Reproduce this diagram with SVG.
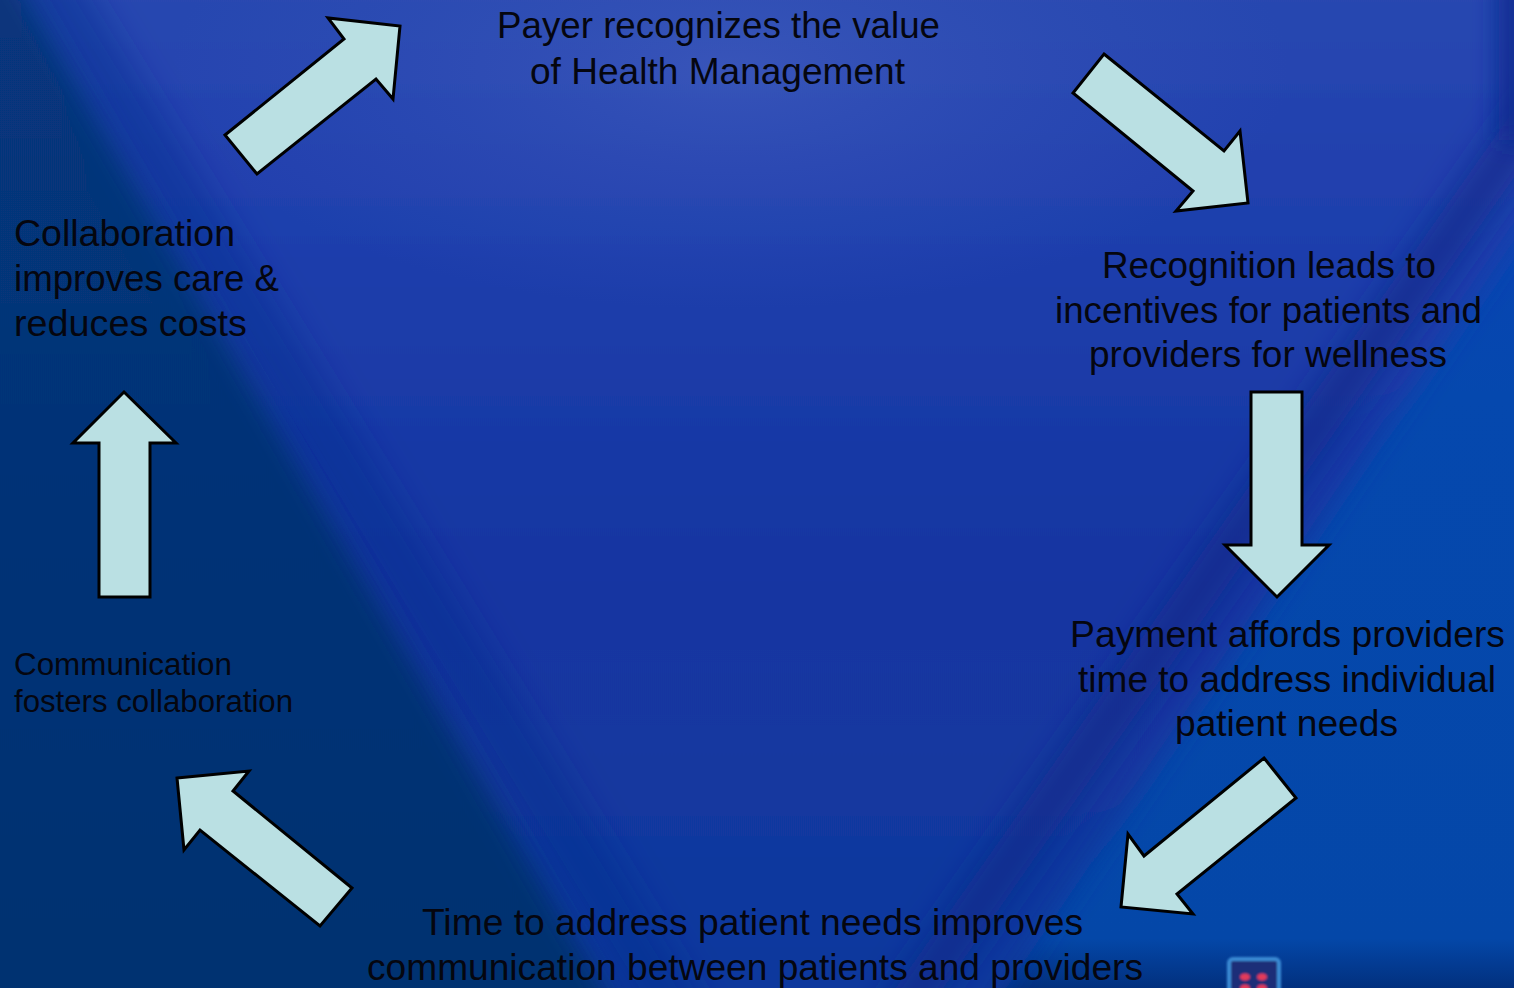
<svg xmlns="http://www.w3.org/2000/svg" width="1514" height="988" viewBox="0 0 1514 988">
  <defs>
    <style>
      .label { font-family: "Liberation Sans", Arial, sans-serif; fill: #05060f; }
      .big { font-size: 37px; }
      .small { font-size: 31px; }
      .arrow { fill: #bae0e3; stroke: #000000; stroke-width: 3; stroke-linejoin: miter; }
    </style>
    <linearGradient id="coneFill" x1="0" y1="0" x2="0" y2="1">
      <stop offset="0" stop-color="#2e4cb2"/>
      <stop offset="0.25" stop-color="#2040ae"/>
      <stop offset="0.55" stop-color="#1536a2"/>
      <stop offset="1" stop-color="#0e389c"/>
    </linearGradient>
    <linearGradient id="sideRight" x1="0" y1="0" x2="0" y2="1">
      <stop offset="0" stop-color="#0c3eb8"/>
      <stop offset="0.4" stop-color="#0548ae"/>
      <stop offset="0.95" stop-color="#0447a8"/>
      <stop offset="1" stop-color="#02307e"/>
    </linearGradient>
    <linearGradient id="sideLeft" x1="0" y1="0" x2="0" y2="1">
      <stop offset="0" stop-color="#07367e"/>
      <stop offset="1" stop-color="#05306f"/>
    </linearGradient>
    <radialGradient id="glow" cx="0" cy="0" r="1" gradientUnits="userSpaceOnUse" gradientTransform="translate(730,70) scale(560,240)">
      <stop offset="0" stop-color="#4761c0" stop-opacity="0.55"/>
      <stop offset="0.6" stop-color="#3c58bb" stop-opacity="0.25"/>
      <stop offset="1" stop-color="#3c58bb" stop-opacity="0"/>
    </radialGradient>
    <filter id="soft" filterUnits="userSpaceOnUse" x="-300" y="-300" width="2114" height="1588">
      <feGaussianBlur stdDeviation="12"/>
    </filter>
    <filter id="softer" filterUnits="userSpaceOnUse" x="-300" y="-300" width="2114" height="1588">
      <feGaussianBlur stdDeviation="16"/>
    </filter>
    <filter id="haze" x="-20%" y="-20%" width="140%" height="140%">
      <feGaussianBlur stdDeviation="1.2"/>
    </filter>
  </defs>

  <!-- backdrop: light cone between two darker side wedges -->
  <g id="backdrop">
    <rect x="0" y="0" width="1514" height="988" fill="url(#sideRight)"/>
    <polygon points="-120,-120 1650,-120 1650,40 930,1100 640,1100 -120,-120" fill="url(#coneFill)" filter="url(#soft)"/>
    <!-- darker rim just inside the left edge of the cone -->
    <line x1="20" y1="-60" x2="690" y2="1040" stroke="#0e2f8e" stroke-width="60" stroke-opacity="0.45" filter="url(#softer)"/>
    <polygon points="-150,-150 -20,-150 6,-40 645,1060 660,1120 -150,1120" fill="url(#sideLeft)" filter="url(#soft)"/>
    <rect x="0" y="0" width="1514" height="988" fill="url(#glow)"/>
    <!-- darker band running along the right edge of the cone -->
    <line x1="1580" y1="50" x2="890" y2="1030" stroke="#0a2888" stroke-width="40" stroke-opacity="0.7" filter="url(#softer)"/>
    <line x1="1514" y1="-40" x2="1514" y2="140" stroke="#0a2c90" stroke-width="30" filter="url(#soft)"/>
    <!-- small emblem at the lower edge -->
    <g id="emblem" filter="url(#haze)">
      <rect x="1229" y="959" width="50" height="40" rx="4" fill="#1d2f78" stroke="#3a8ad4" stroke-width="4"/>
      <ellipse cx="1245" cy="977" rx="5" ry="3.5" fill="#e23a5a"/>
      <ellipse cx="1262" cy="977" rx="5" ry="3.5" fill="#e23a5a"/>
      <ellipse cx="1245" cy="988" rx="5" ry="3.5" fill="#e23a5a"/>
      <ellipse cx="1262" cy="988" rx="5" ry="3.5" fill="#e23a5a"/>
    </g>
  </g>

  <!-- block arrows linking the cycle steps -->
  <g id="connectors">
    <polygon id="arrow-payer" class="arrow" points="225,135 344,39 328,18 400,26 393,99 376,79 257,174"/>
    <polygon id="arrow-recognition" class="arrow" points="1104,54 1224,151 1240,131 1248,203 1176,211 1193,191 1073,93"/>
    <polygon id="arrow-payment" class="arrow" points="1251,392 1302,392 1302,545 1329,545 1277,597 1225,545 1251,545"/>
    <polygon id="arrow-time" class="arrow" points="1264,758 1296,798 1177,894 1193,914 1121,907 1128,834 1144,856"/>
    <polygon id="arrow-communication" class="arrow" points="177,778 249,771 233,791 352,888 320,926 200,830 184,850"/>
    <polygon id="arrow-collaboration" class="arrow" points="124,392 176,443 150,443 150,597 99,597 99,443 73,443"/>
  </g>

  <g id="node-payer">
    <text class="label big" x="718.5" y="38" text-anchor="middle" textLength="443" lengthAdjust="spacingAndGlyphs">Payer recognizes the value</text>
    <text class="label big" x="717.5" y="84" text-anchor="middle" textLength="375" lengthAdjust="spacingAndGlyphs">of Health Management</text>
  </g>

  <g id="node-recognition">
    <text class="label big" x="1269" y="278" text-anchor="middle" textLength="334" lengthAdjust="spacingAndGlyphs">Recognition leads to</text>
    <text class="label big" x="1268.5" y="323" text-anchor="middle" textLength="427" lengthAdjust="spacingAndGlyphs">incentives for patients and</text>
    <text class="label big" x="1268" y="367" text-anchor="middle" textLength="358" lengthAdjust="spacingAndGlyphs">providers for wellness</text>
  </g>

  <g id="node-payment">
    <text class="label big" x="1287.5" y="647" text-anchor="middle" textLength="435" lengthAdjust="spacingAndGlyphs">Payment affords providers</text>
    <text class="label big" x="1287" y="692" text-anchor="middle" textLength="418" lengthAdjust="spacingAndGlyphs">time to address individual</text>
    <text class="label big" x="1286.5" y="736" text-anchor="middle" textLength="223" lengthAdjust="spacingAndGlyphs">patient needs</text>
  </g>

  <g id="node-time">
    <text class="label big" x="752.5" y="935" text-anchor="middle" textLength="661" lengthAdjust="spacingAndGlyphs">Time to address patient needs improves</text>
    <text class="label big" x="755" y="980" text-anchor="middle" textLength="776" lengthAdjust="spacingAndGlyphs">communication between patients and providers</text>
  </g>

  <g id="node-communication">
    <text class="label small" x="14" y="675" textLength="218" lengthAdjust="spacingAndGlyphs">Communication</text>
    <text class="label small" x="14" y="712" textLength="279" lengthAdjust="spacingAndGlyphs">fosters collaboration</text>
  </g>

  <g id="node-collaboration">
    <text class="label big" x="14" y="246" textLength="221" lengthAdjust="spacingAndGlyphs">Collaboration</text>
    <text class="label big" x="14" y="291" textLength="265" lengthAdjust="spacingAndGlyphs">improves care &amp;</text>
    <text class="label big" x="14" y="336" textLength="233" lengthAdjust="spacingAndGlyphs">reduces costs</text>
  </g>
</svg>
